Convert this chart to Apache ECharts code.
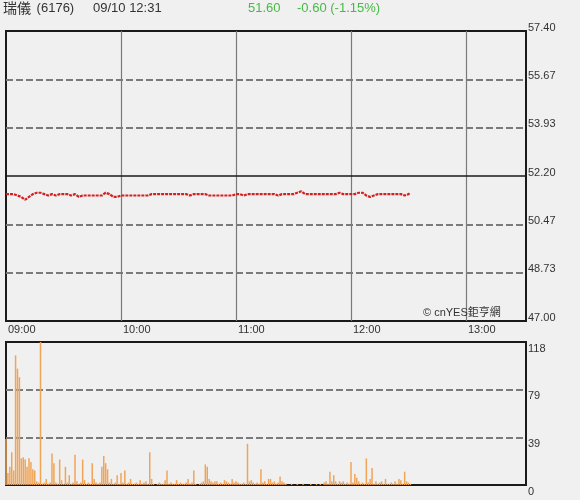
<!DOCTYPE html>
<html>
<head>
<meta charset="utf-8">
<script src="https://cdn.jsdelivr.net/npm/echarts@6/dist/echarts.min.js"></script>
<style>
html,body{margin:0;padding:0;background:#f0f0f0;}
#c{width:580px;height:500px;}
</style>
</head>
<body>
<div id="c"></div>
<script>
// ---- data (one value per minute from 09:00) ----
var prices = [
51.55,51.55,51.55,51.50,51.55,51.50,51.50,51.45,51.45,51.40,
51.35,51.40,51.45,51.50,51.55,51.55,51.60,51.55,51.60,51.55,
51.55,51.55,51.50,51.55,51.55,51.55,51.50,51.55,51.55,51.55,
51.55,51.55,51.55,51.50,51.50,51.55,51.55,51.50,51.45,51.45,
51.50,51.50,51.50,51.50,51.50,51.50,51.50,51.50,51.50,51.50,
51.50,51.55,51.60,51.60,51.55,51.50,51.45,51.45,51.45,51.50,
51.50,51.50,51.50,51.50,51.50,51.50,51.50,51.50,51.50,51.50,
51.50,51.50,51.50,51.50,51.50,51.55,51.55,51.60,51.55,51.55,
51.55,51.55,51.55,51.50,51.55,51.55,51.55,51.55,51.55,51.55,
51.55,51.55,51.55,51.55,51.55,51.55,51.50,51.50,51.55,51.55,
51.55,51.55,51.55,51.55,51.55,51.50,51.50,51.50,51.50,51.50,
51.50,51.50,51.50,51.50,51.50,51.50,51.50,51.50,51.50,51.55,
51.55,51.55,51.55,51.55,51.50,51.55,51.55,51.55,51.55,51.55,
51.55,51.55,51.55,51.55,51.55,51.55,51.55,51.55,51.55,51.55,
51.55,51.55,51.50,51.55,51.55,51.55,51.55,51.55,51.55,51.55,
51.55,51.55,51.60,51.65,51.65,51.60,51.55,51.55,51.55,51.55,
51.55,51.55,51.55,51.55,51.55,51.55,51.55,51.55,51.55,51.55,
51.55,51.55,51.55,51.60,51.60,51.55,51.55,51.55,51.55,51.55,
51.55,51.55,51.55,51.55,51.60,51.65,51.60,51.55,51.50,51.50,
51.45,51.45,51.50,51.55,51.55,51.55,51.55,51.55,51.55,51.55,
51.55,51.55,51.55,51.55,51.55,51.55,51.55,51.55,51.50,51.55,
51.55,51.60
];
var volumes = [
38,10,15,27,12,107,96,89,22,23,
21,15,22,19,13,12,3,2,118,1,
2,5,1,2,26,18,2,1,21,4,
1,15,2,8,1,2,25,3,1,2,
21,4,1,2,1,18,5,2,1,2,
15,24,18,13,2,5,1,2,8,1,
10,2,12,1,2,5,1,1,2,1,
4,1,2,3,1,27,5,1,0,1,
2,1,1,4,12,1,2,1,1,4,
1,2,1,1,2,5,1,2,12,1,
0,1,2,3,17,15,5,3,2,3,
3,1,2,1,4,3,2,1,5,2,
3,2,1,1,2,1,34,3,4,2,
1,2,1,13,2,3,1,5,5,2,
3,1,2,7,3,2,1,0,0,1,
0,0,1,0,0,1,0,0,0,1,
0,0,1,0,1,0,2,3,1,11,
3,8,3,1,3,2,3,1,2,1,
19,2,9,6,3,1,2,1,22,2,
5,14,1,3,1,2,3,1,5,1,
1,2,1,3,1,5,4,1,11,3,
2,1
];
var timeLabels = ['09:00','10:00','11:00','12:00','13:00'];
var priceTickLabels = ['47.00','48.73','50.47','52.20','53.93','55.67','57.40'];
var volTickLabels = ['0','39','79','118'];
var prevClose = 52.20;
var priceMin = 47.00, priceMax = 57.40;
var volMax = 118;

var FONT = "'Liberation Sans', Arial, 'Noto Sans CJK TC', sans-serif";
var lblColor = '#333';
var gridGray = '#7a7a7a';

var chart = echarts.init(document.getElementById('c'), null, {renderer:'canvas'});
var xMax = 520 / (115/60);

chart.setOption({
  animation: false,
  backgroundColor: '#f0f0f0',
  textStyle: {fontFamily: FONT},
  grid: [
    {left: 6, right: 54, top: 31, height: 290, show: true, borderColor: '#1a1a1a', borderWidth: 2, backgroundColor: 'transparent'},
    {left: 6, right: 54, top: 342, height: 143, show: true, borderColor: '#1a1a1a', borderWidth: 2, backgroundColor: 'transparent'}
  ],
  xAxis: [
    {gridIndex: 0, type: 'value', min: 0, max: xMax, interval: 60,
     axisLine: {show: false}, axisTick: {show: false},
     axisLabel: {show: true, align: 'left', margin: 3, padding: [0,0,0,2], fontSize: 11, color: lblColor, fontFamily: FONT,
       showMaxLabel: false,
       formatter: function (v) { return (Math.abs(v % 60) < 1e-6) ? (timeLabels[Math.round(v/60)] || '') : ''; }},
     splitLine: {show: true, lineStyle: {color: ['transparent', gridGray, gridGray, gridGray, gridGray, 'transparent'], width: 1.2}}},
    {gridIndex: 1, type: 'value', min: 0, max: xMax, interval: 60,
     axisLine: {show: false}, axisTick: {show: false}, axisLabel: {show: false}, splitLine: {show: false}}
  ],
  yAxis: [
    {gridIndex: 0, type: 'value', min: priceMin, max: priceMax, position: 'right', show: false, splitLine: {show: false}},
    {gridIndex: 0, type: 'value', min: 0, max: 6, interval: 1, position: 'right',
     axisLine: {show: false}, axisTick: {show: false},
     axisLabel: {show: true, margin: 2, fontSize: 11, color: lblColor, fontFamily: FONT, verticalAlign: 'bottom', padding: [0,0,-2,0],
       formatter: function (v) { return priceTickLabels[Math.round(v)]; }},
     splitLine: {show: true, lineStyle: {type: [7,3], width: 2, color: ['transparent', gridGray, gridGray, 'transparent', gridGray, gridGray, 'transparent']}}},
    {gridIndex: 1, type: 'value', min: 0, max: volMax, interval: volMax/3, position: 'right',
     axisLine: {show: false}, axisTick: {show: false},
     axisLabel: {show: true, margin: 2, fontSize: 11, color: lblColor, fontFamily: FONT, verticalAlign: 'top', padding: [1,0,0,0],
       formatter: function (v) { return volTickLabels[Math.round(v / (volMax/3))]; }},
     splitLine: {show: true, lineStyle: {type: [7,3], width: 2, color: ['transparent', gridGray, gridGray, 'transparent']}}}
  ],
  graphic: [
    {type: 'text', left: 3, top: 1, style: {text: '瑞儀', font: "14px 'Noto Sans CJK TC', sans-serif", fill: '#333'}},
    {type: 'text', left: 33, top: 2, style: {text: ' (6176)', font: "13px " + FONT, fill: '#333'}},
    {type: 'text', left: 93, top: 2, style: {text: '09/10 12:31', font: "13px " + FONT, fill: '#333'}},
    {type: 'text', left: 248, top: 2, style: {text: '51.60', font: "13px " + FONT, fill: '#44bb44'}},
    {type: 'text', left: 297, top: 2, style: {text: '-0.60 (-1.15%)', font: "13px " + FONT, fill: '#44bb44'}},
    {type: 'text', left: 423, top: 307, z: 10, style: {text: '© cnYES鉅亨網', font: "11px " + FONT, fill: '#333'}}
  ],
  series: [
    {type: 'line', xAxisIndex: 0, yAxisIndex: 0, showSymbol: false, symbol: 'none',
     data: prices.map(function (p, i) { return [i, p]; }),
     lineStyle: {color: '#d42020', width: 2.2, type: [3,1]},
     markLine: {silent: true, symbol: ['none','none'], label: {show: false},
       lineStyle: {color: '#1a1a1a', width: 1.5, type: 'solid'},
       data: [{yAxis: prevClose}]}},
    {type: 'bar', xAxisIndex: 1, yAxisIndex: 2, barWidth: 1.5,
     data: volumes.map(function (v, i) { return [i, v]; }),
     itemStyle: {color: '#f0a458'}}
  ]
});
</script>
</body>
</html>
